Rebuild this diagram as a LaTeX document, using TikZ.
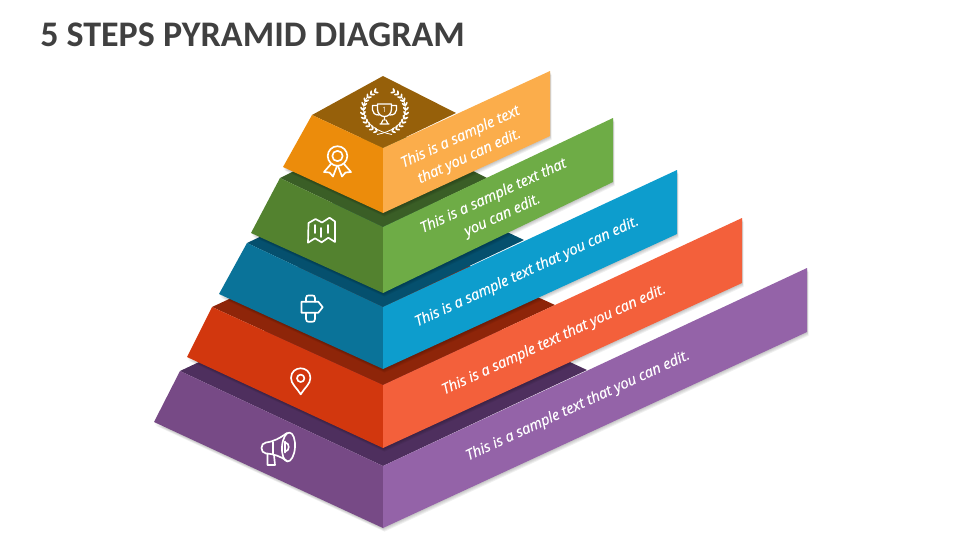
\documentclass[tikz,border=0pt]{standalone}
\usepackage{fontspec}
\setmainfont{Open Sans}
\newfontfamily\titlefont{Carlito}
\newfontfamily\labelfont{Open Sans}[FakeBold=0.45]
\definecolor{oT}{HTML}{96600A}\definecolor{oL}{HTML}{EC8C0B}\definecolor{oR}{HTML}{FBAD4B}
\definecolor{gT}{HTML}{3A5E26}\definecolor{gL}{HTML}{53822F}\definecolor{gR}{HTML}{6EAC46}
\definecolor{bT}{HTML}{05506E}\definecolor{bL}{HTML}{0A7399}\definecolor{bR}{HTML}{0D9DCD}
\definecolor{rT}{HTML}{8E2509}\definecolor{rL}{HTML}{D2370E}\definecolor{rR}{HTML}{F3603B}
\definecolor{pT}{HTML}{4E2F5E}\definecolor{pL}{HTML}{774A86}\definecolor{pR}{HTML}{9463A8}
\newcommand\softshadow[1]{\foreach \d in {1,2,3,4}{\fill[black,opacity=.06,shift={(\d*0.4,\d*0.9)}] #1;}}
\tikzset{
  iconline/.style={draw=white,line width=1.25pt,line join=round,line cap=round},
  labeltext/.style={text=white,font=\labelfont\itshape\fontsize{10.9}{16}\selectfont,rotate=24.7,align=center,inner sep=0pt},
}
\begin{document}
\begin{tikzpicture}[x=0.75pt,y=-0.75pt]
\useasboundingbox (0,0) rectangle (960,540);
\node[anchor=base west,inner sep=0pt,text=black!75,font=\titlefont\bfseries\fontsize{27}{31}\selectfont] (title) at (40,46) {5 STEPS PYRAMID DIAGRAM};

% purple tier
\softshadow{(154,422)--(383,528)--(807,332)--(807,268)--(383,466)--cycle}
\fill[pT] (180,371)--(384,275)--(587,370)--(383,466)--cycle;
\fill[pL] (180,371)--(383,466)--(383,528)--(154,422)--cycle;
\fill[pR] (383,466)--(807,268)--(807,332)--(383,528)--cycle;
\node[labeltext] (t5) at (578,406) {This is a sample text that you can edit.};

% red tier
\softshadow{(187,357)--(383,448)--(742,283)--(742,218)--(383,385)--cycle}
\fill[rT] (212,307)--(384,227)--(555,305)--(383,385)--cycle;
\fill[rL] (212,307)--(383,385)--(383,448)--(187,357)--cycle;
\fill[rR] (383,385)--(742,218)--(742,283)--(383,448)--cycle;
\node[labeltext] (t4) at (554,340) {This is a sample text that you can edit.};

% blue tier
\softshadow{(219,294)--(383,369)--(677,234)--(677,170)--(383,307)--cycle}
\fill[bT] (247,243)--(388,176)--(524,240)--(383,307)--cycle;
\fill[bL] (247,243)--(383,307)--(383,369)--(219,294)--cycle;
\fill[bR] (383,307)--(677,170)--(677,234)--(383,369)--cycle;
\node[labeltext] (t3) at (527,272) {This is a sample text that you can edit.};

% green tier
\softshadow{(251,233)--(383,293)--(613,182)--(613,118)--(383,227)--cycle}
\fill[gT] (280,178)--(384,126)--(487,178)--(383,227)--cycle;
\fill[gL] (280,178)--(383,227)--(383,293)--(251,233)--cycle;
\fill[gR] (383,227)--(613,118)--(613,182)--(383,293)--cycle;
\node[labeltext] (t2) at (498,206) {This is a sample text that\\you can edit.};

% orange tier
\softshadow{(283,167)--(383,213)--(550,136)--(550,71)--(383,148)--cycle}
\fill[oT] (312,115)--(383,76)--(456,113)--(383,148)--cycle;
\fill[oL] (312,115)--(383,148)--(383,213)--(283,167)--cycle;
\fill[oR] (383,148)--(550,71)--(550,136)--(383,213)--cycle;
\node[labeltext] (t1) at (465,147) {This is a sample text\\that you can edit.};

% trophy with laurels
\draw[iconline,line width=.95pt] (377.5,104)--(391.5,104)--(391.5,109) .. controls (391.5,114) and (388,116.5) .. (384.5,116.5) .. controls (381,116.5) and (377.5,114) .. (377.5,109)--cycle;
\draw[iconline,line width=.95pt] (377.5,105.5)--(372.5,105.5)--(372.5,110) .. controls (372.5,113) and (375,115) .. (379,115);
\draw[iconline,line width=.95pt] (391.5,105.5)--(396.5,105.5)--(396.5,110) .. controls (396.5,113) and (394,115) .. (390,115);
\draw[iconline,line width=.95pt] (384.5,116.5)--(384.5,120) (380,124)--(389,124) (383,120)--(381,124) (386,120)--(388,124);
\node[text=white,inner sep=0pt,font=\fontsize{5.5}{5.5}\selectfont] (trophynum) at (384.5,109.5) {1};
\draw[white,line width=.6pt] (392,134.5) .. controls (378,132) and (364,124) .. (363.5,110) .. controls (363.5,105) and (365,100) .. (368,96);
\draw[white,line width=.6pt] (377,134.5) .. controls (391,132) and (405,124) .. (405.5,110) .. controls (405.5,105) and (404,100) .. (401,96);
\foreach \a in {250,238,226,214,202,190,178,166,154,142,130,118}{
  \fill[white,shift={({384.5+21.5*cos(\a)},{111-21.5*sin(\a)})},rotate=\a-50] (2,0) ellipse [x radius=2.3,y radius=.95];
  \fill[white,shift={({384.5+21.5*cos(\a)},{111-21.5*sin(\a)})},rotate=\a-130] (2,0) ellipse [x radius=2.3,y radius=.95];
}
\foreach \a in {-70,-58,-46,-34,-22,-10,2,14,26,38,50,62}{
  \fill[white,shift={({384.5+21.5*cos(\a)},{111-21.5*sin(\a)})},rotate=\a+50] (2,0) ellipse [x radius=2.3,y radius=.95];
  \fill[white,shift={({384.5+21.5*cos(\a)},{111-21.5*sin(\a)})},rotate=\a+130] (2,0) ellipse [x radius=2.3,y radius=.95];
}

% rosette
\draw[iconline] (337.5,156) circle [radius=9.8];
\draw[iconline] (337.5,156) circle [radius=5.2];
\draw[iconline] (331,164)--(324,172)--(329.5,172.5)--(333,176.5)--(337,166);
\draw[iconline] (344,164)--(351,172)--(345.5,172.5)--(342,176.5)--(338,166);

% map
\draw[iconline] (308.5,223)--(315.5,219)--(322,222.5)--(329.5,217.7)--(335,221.5)--(335,242)--(328.3,237.7)--(321.7,242.3)--(315,238.3)--(308,242.7)--cycle;
\draw[iconline] (315,225)--(315,233) (321,228)--(321,237) (328,225)--(328,233);

% signpost
\draw[iconline] (301.5,301.7)--(318.3,301.7)--(322.7,307.2)--(318.3,312.7)--(301.5,312.7)--cycle;
\draw[iconline] (306,301.7)--(306,298) .. controls (306,295.5) and (307,295.5) .. (310.5,295.5) .. controls (314,295.5) and (315,295.5) .. (315,298)--(315,301.7);
\draw[iconline] (306,312.7)--(306,319) .. controls (306,321.7) and (307,321.7) .. (310.5,321.7) .. controls (314,321.7) and (315,321.7) .. (315,319)--(315,312.7);

% pin
\draw[iconline] (300.7,394.3) .. controls (297,388) and (291,384) .. (291,378) .. controls (291,371.5) and (296,368.3) .. (300.7,368.3) .. controls (305.4,368.3) and (310.4,371.5) .. (310.4,378) .. controls (310.4,384) and (304.4,388) .. (300.7,394.3)--cycle;
\draw[iconline] (300.7,378.3) circle [radius=3.7];

% megaphone
\draw[iconline,rotate around={-4:(288.5,447)}] (288.5,447) ellipse [x radius=6.5,y radius=14.5];
\draw[iconline] (287,433) .. controls (280,438) and (274,441.5) .. (266,442.5) .. controls (260,443) and (260,453) .. (266,453.5) .. controls (274,454) and (280,456) .. (287,461);
\draw[iconline] (273,442)--(273,454);
\draw[iconline] (285,442.5) .. controls (290,442.5) and (290,451.5) .. (285,451.5);
\draw[iconline] (285,441.5)--(285,452.5);
\draw[iconline] (267.5,453.5)--(267.5,465)--(275,465)--(274,455);
\end{tikzpicture}
\end{document}
